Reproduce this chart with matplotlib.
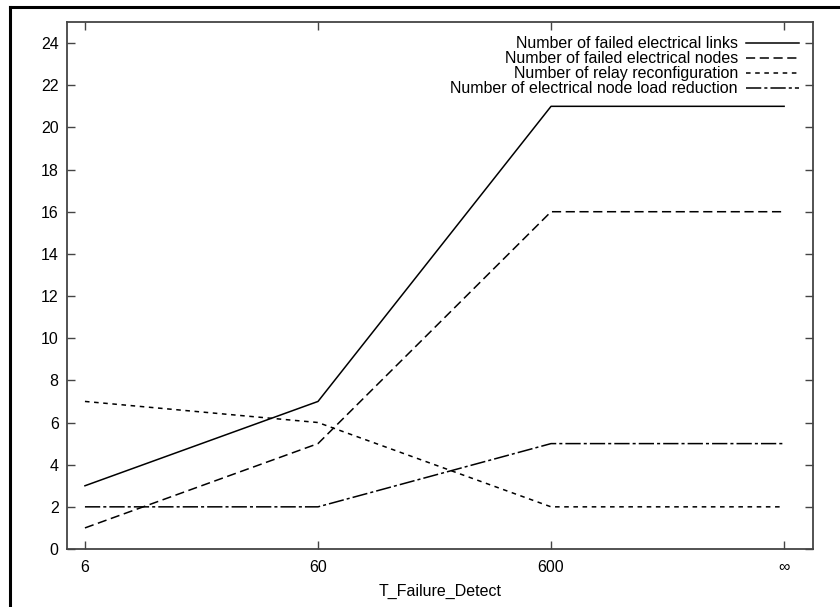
import numpy as np
import matplotlib
matplotlib.use("Agg")
from matplotlib import pyplot as plt
from matplotlib.lines import Line2D

plt.rcParams['font.family'] = ['Liberation Sans', 'DejaVu Sans']

X_LABELS = ["6", "60", "600", "\u221e"]
LINKS  = [3, 7, 21, 21]
NODES  = [1, 5, 16, 16]
RELAY  = [7, 6, 2, 2]
LOADRD = [2, 2, 5, 5]
NAMES = [
    "Number of failed electrical links",
    "Number of failed electrical nodes",
    "Number of relay reconfiguration",
    "Number of electrical node load reduction"]

FS = 11.5

fig = plt.figure(figsize=(8.4, 6.07), dpi=100)
ax = fig.add_axes([67/840, 1 - 549/607, (813 - 67)/840, (549 - 22)/607])

x = np.arange(len(X_LABELS))
styles = ["-", (0, (6, 3)), (0, (3, 3)), (0, (10, 2, 2, 2))]
for ys, ls, name in zip([LINKS, NODES, RELAY, LOADRD], styles, NAMES):
    ax.plot(x, ys, color="black", lw=1.1, linestyle=ls, label=name)

ax.set_xlim(-0.077, 3.124)
ax.set_ylim(0, 25)
ax.set_xticks(x)
ax.set_xticklabels(X_LABELS)
ax.set_yticks(np.arange(0, 25, 2))
ax.tick_params(direction="in", length=6, width=1, color="#444444",
               top=True, right=True, labelsize=FS)
ax.tick_params(axis="x", pad=8)
ax.tick_params(axis="y", pad=6)
for s in ax.spines.values():
    s.set_color("#444444")
    s.set_linewidth(1.3)
ax.set_xlabel("T_Failure_Detect", fontsize=FS, labelpad=6)

ax.legend(loc="upper right", markerfirst=False, frameon=False,
          fontsize=FS, handlelength=3.3, labelspacing=0.0,
          handletextpad=0.5, borderaxespad=0.5)

# outer frame of the cropped figure (left and top only)
fig.add_artist(Line2D([10/840, 10/840], [0, 1 - 7/607], color="black", lw=2.2,
                      transform=fig.transFigure))
fig.add_artist(Line2D([10/840, 1], [1 - 7/607, 1 - 7/607], color="black", lw=2.2,
                      transform=fig.transFigure))

fig.savefig("out.png", dpi=100)
